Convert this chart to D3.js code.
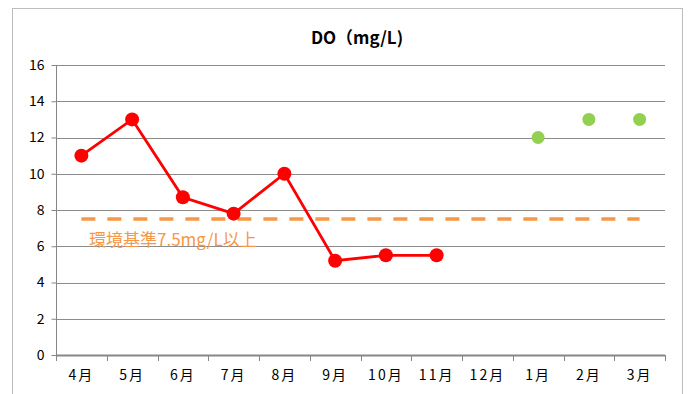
<!DOCTYPE html>
<html><head><meta charset="utf-8">
<script src="https://cdn.jsdelivr.net/npm/d3@7"></script>
<style>body{margin:0;background:#fff}svg{display:block}</style>
</head><body>
<svg id="c" width="688" height="394"></svg>
<script>
const months = ["4月","5月","6月","7月","8月","9月","10月","11月","12月","1月","2月","3月"];
const redValues = [11, 13, 8.7, 7.8, 10, 5.2, 5.5, 5.5, null, null, null, null];
const greenValues = [null, null, null, null, null, null, null, null, null, 12, 13, 13];
const standardValue = 7.5;
const yTicks = [0, 2, 4, 6, 8, 10, 12, 14, 16];
const titleText = "DO（mg/L)";
const standardLabel = "環境基準7.5mg/L以上";

const svg = d3.select("#c");
const L = 56, R = 665, T = 65, B = 355;
const font = "'Noto Sans CJK JP','Noto Sans',sans-serif";

svg.append("rect").attr("x", 12.5).attr("y", 8.5).attr("width", 670).attr("height", 400)
  .attr("fill", "#fff").attr("stroke", "#bdbdbd").attr("stroke-width", 1);

const x = d3.scaleBand().domain(months).range([L, R]).padding(0);
const y = d3.scaleLinear().domain([0, 16]).range([B, T]);

// gridlines
svg.append("g").selectAll("line").data(yTicks.filter(d => d > 0)).join("line")
  .attr("x1", L).attr("x2", R).attr("y1", d => Math.round(y(d)) + 0.5).attr("y2", d => Math.round(y(d)) + 0.5)
  .attr("stroke", "#8c8c8c").attr("stroke-width", 1);

// y axis
const ya = svg.append("g").attr("transform", `translate(${L + 0.5},0)`)
  .call(d3.axisLeft(y).tickValues(yTicks).tickSize(5).tickPadding(7));
ya.select(".domain").attr("stroke", "#868686").attr("d", `M0,${T}V${B}`);
ya.selectAll(".tick line").attr("stroke", "#868686");
ya.selectAll("text").attr("font-family", font).attr("font-size", 14).attr("fill", "#000");

// x axis
const xa = svg.append("g").attr("transform", `translate(0,${B + 0.5})`)
  .call(d3.axisBottom(x).tickSize(0).tickPadding(15));
xa.select(".domain").attr("stroke", "#868686").attr("stroke-width", 2).attr("d", `M${L},0H${R}`);
xa.selectAll("text").attr("font-family", font).attr("font-size", 14).attr("fill", "#000").attr("letter-spacing", 2);
const bounds = months.map(m => x(m)).concat([R]);
svg.append("g").selectAll("line").data(bounds).join("line")
  .attr("x1", d => Math.round(d) + 0.5).attr("x2", d => Math.round(d) + 0.5)
  .attr("y1", B).attr("y2", B + 6).attr("stroke", "#868686");

const cx = m => x(m) + x.bandwidth() / 2;

// standard line
svg.append("line").attr("x1", cx(months[0])).attr("x2", cx(months[months.length - 1]))
  .attr("y1", y(standardValue)).attr("y2", y(standardValue))
  .attr("stroke", "#f79646").attr("stroke-width", 3.5).attr("stroke-dasharray", "14,12");
svg.append("text").attr("x", 89).attr("y", y(standardValue) + 27)
  .attr("font-family", font).attr("font-size", 17).attr("fill", "#f79646").text(standardLabel);

// red series
const redData = months.map((m, i) => ({m, v: redValues[i]})).filter(d => d.v != null);
svg.append("path").datum(redData)
  .attr("d", d3.line().x(d => cx(d.m)).y(d => y(d.v)))
  .attr("fill", "none").attr("stroke", "#ff0000").attr("stroke-width", 2.8);
svg.append("g").selectAll("circle").data(redData).join("circle")
  .attr("cx", d => cx(d.m)).attr("cy", d => y(d.v)).attr("r", 7).attr("fill", "#ff0000");

// green series
const greenData = months.map((m, i) => ({m, v: greenValues[i]})).filter(d => d.v != null);
svg.append("g").selectAll("circle").data(greenData).join("circle")
  .attr("cx", d => cx(d.m)).attr("cy", d => y(d.v)).attr("r", 6.5).attr("fill", "#92d050");

// title
svg.append("text").attr("x", 357).attr("y", 44).attr("text-anchor", "middle")
  .attr("font-family", font).attr("font-size", 17).attr("font-weight", "bold").text(titleText);
</script>
</body></html>
